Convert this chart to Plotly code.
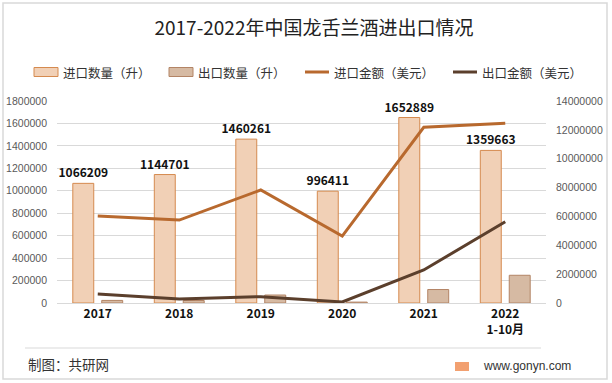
import plotly.graph_objects as go

years = ["2017", "2018", "2019", "2020", "2021", "2022<br>1-10月"]
import_qty = [1066209, 1144701, 1460261, 996411, 1652889, 1359663]
export_qty = [23000, 22000, 71000, 8000, 120000, 247000]
import_val = [6030000, 5750000, 7830000, 4640000, 12180000, 12450000]
export_val = [620000, 280000, 440000, 70000, 2290000, 5630000]
series_names = ["进口数量（升）", "出口数量（升）", "进口金额（美元）", "出口金额（美元）"]

W, H = 612, 383
L, R, T, B = 57, 66, 101, 80
pw, ph = W - L - R, H - T - B

def px(x):
    return (x - L) / pw

def py(y):
    return (H - B - y) / ph

FONT = "Liberation Sans, Noto Sans CJK SC, sans-serif"
CJK = "Noto Sans CJK SC, sans-serif"

IMP_FILL, IMP_LINE = "#F1D0B6", "#D58A4F"
EXP_FILL, EXP_LINE = "#D6BAA3", "#B38465"
IMPV, EXPV = "#B8692E", "#5B3F2C"

fig = go.Figure()
fig.add_trace(go.Bar(
    x=years, y=import_qty, name=series_names[0],
    marker=dict(color=IMP_FILL, line=dict(color=IMP_LINE, width=1)),
    text=[f"<b>{v}</b>" for v in import_qty], textposition="outside",
    constraintext="none",
    textfont=dict(family=CJK, size=12, color="#111111"),
    cliponaxis=False,
))
fig.add_trace(go.Bar(
    x=years, y=export_qty, name=series_names[1],
    marker=dict(color=EXP_FILL, line=dict(color=EXP_LINE, width=1)),
))
fig.add_trace(go.Scatter(
    x=years, y=import_val, name=series_names[2], yaxis="y2",
    mode="lines", line=dict(color=IMPV, width=3),
))
fig.add_trace(go.Scatter(
    x=years, y=export_val, name=series_names[3], yaxis="y2",
    mode="lines", line=dict(color=EXPV, width=3),
))

fig.update_layout(
    width=W, height=H,
    margin=dict(l=L, r=R, t=T, b=B, autoexpand=False),
    paper_bgcolor="white", plot_bgcolor="white",
    barmode="group", bargap=0.29, bargroupgap=0.276,
    font=dict(family=FONT, color="#595959"),
    title=dict(text="2017-2022年中国龙舌兰酒进出口情况", x=0.513, xanchor="center",
               y=1 - 28 / H, yanchor="middle",
               font=dict(family=CJK, size=19, color="#222222")),
    showlegend=False,
    xaxis=dict(type="category", showgrid=False, showline=True, linecolor="#D9D9D9",
               automargin=False, ticks="",
               tickfont=dict(family=CJK, size=12, color="#111111", weight="bold")),
    yaxis=dict(range=[0, 1800000], dtick=200000, tickformat="d", showgrid=True,
               gridcolor="#D9D9D9", zeroline=False, ticks="", ticklabelstandoff=9,
               automargin=False,
               tickfont=dict(family=FONT, size=10.5, color="#595959")),
    yaxis2=dict(range=[0, 14000000], dtick=2000000, tickformat="d", overlaying="y",
                side="right", showgrid=False, zeroline=False, ticks="", ticklabelstandoff=9,
                automargin=False,
                tickfont=dict(family=FONT, size=10.5, color="#595959")),
)

# manual legend
leg_y = 72
leg_items = [(34, "bar", IMP_FILL, IMP_LINE), (169, "bar", EXP_FILL, EXP_LINE),
             (305, "line", IMPV, None), (453, "line", EXPV, None)]
for (x0, kind, c1, c2), name in zip(leg_items, series_names):
    if kind == "bar":
        fig.add_shape(type="rect", xref="paper", yref="paper",
                      x0=px(x0), x1=px(x0 + 24), y0=py(leg_y + 4.5), y1=py(leg_y - 4.5),
                      fillcolor=c1, line=dict(color=c2, width=1))
    else:
        fig.add_shape(type="line", xref="paper", yref="paper",
                      x0=px(x0), x1=px(x0 + 24), y0=py(leg_y), y1=py(leg_y),
                      line=dict(color=c1, width=3))
    fig.add_annotation(text=name, xref="paper", yref="paper",
                       x=px(x0 + 27), y=py(leg_y), xanchor="left", yanchor="middle",
                       showarrow=False, font=dict(family=CJK, size=12.5, color="#333333"))

# outer border
fig.add_shape(type="rect", xref="paper", yref="paper",
              x0=px(3), x1=px(607), y0=py(379), y1=py(3),
              line=dict(color="#D9D9D9", width=1.5), layer="below")
# footer separator
fig.add_shape(type="line", xref="paper", yref="paper",
              x0=px(25), x1=px(541), y0=py(348), y1=py(348),
              line=dict(color="#D9D9D9", width=1))
fig.add_annotation(text="制图：共研网", xref="paper", yref="paper",
                   x=px(26), y=py(364), xanchor="left", yanchor="middle",
                   showarrow=False, font=dict(family=CJK, size=13.5, color="#333333"))
fig.add_shape(type="rect", xref="paper", yref="paper",
              x0=px(455), x1=px(469), y0=py(371), y1=py(362),
              line=dict(width=0), fillcolor="#F2A070")
fig.add_annotation(text="www.gonyn.com", xref="paper", yref="paper",
                   x=px(481), y=py(366), xanchor="left", yanchor="middle",
                   showarrow=False, font=dict(family=FONT, size=12, color="#333333"))

fig.write_html("out.html", post_script="document.body.style.margin='0';",
               config={"displayModeBar": False})
